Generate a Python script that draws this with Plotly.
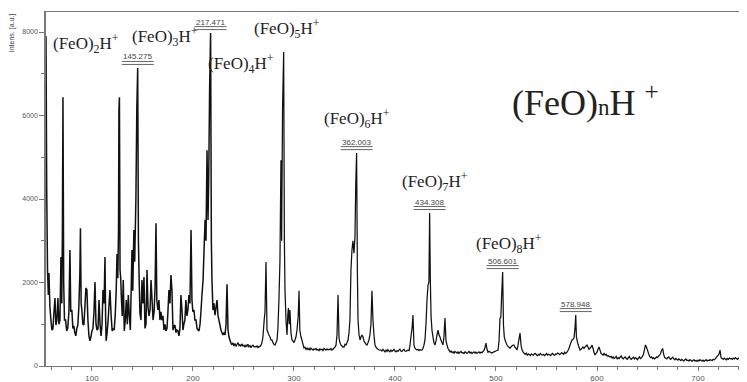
import plotly.graph_objects as go

# ---------------- data (m/z, intensity) ----------------
forest = [
    (54.5, 7900), (55.2, 4200), (56.0, 2300), (56.8, 1700), (57.4, 2230), (58.4, 1400), (59.4, 1100),
    (60.4, 860), (61.4, 900), (62.4, 1300), (63.4, 1630), (64.3, 980), (65.3, 1100), (66.3, 1630),
    (67.3, 1000), (68.3, 1100), (69.3, 2610), (70.1, 1500), (70.7, 3100), (71.3, 6440), (72.0, 2000),
    (72.8, 1100), (73.9, 1100), (75.0, 842), (76.0, 900), (77.2, 1300), (78.2, 2780), (79.0, 1300),
    (80.1, 1341), (81.1, 900), (82.1, 962), (83.0, 800), (84.0, 723), (85.0, 900), (86.0, 982),
    (87.0, 1400), (88.0, 2200), (88.6, 3300), (89.3, 1500), (90.0, 1341), (91.0, 1000), (92.0, 982),
    (93.0, 1400), (94.0, 1870), (95.0, 1820), (96.0, 1100), (97.0, 723), (98.0, 603), (99.0, 700),
    (100.0, 842), (101.0, 900), (102.0, 1300), (103.0, 2010), (104.0, 1000), (105.0, 862), (106.0, 900),
    (107.0, 1581), (108.0, 1000), (109.0, 723), (110.0, 1000), (110.9, 1820), (112.0, 1500), (112.9, 2610),
    (113.5, 1200), (114.0, 603), (115.0, 800), (116.0, 1100), (117.8, 1820), (119.0, 1200), (120.0, 842),
    (121.0, 900), (122.0, 862), (123.0, 1200), (124.0, 1800), (124.8, 2680), (125.6, 2100), (126.3, 3300),
    (126.7, 6150), (127.2, 6440), (127.8, 2300), (128.5, 2100), (129.0, 1700), (130.0, 1200), (131.0, 2060),
    (132.0, 842), (133.0, 1100), (134.0, 1581), (135.0, 1000), (136.0, 1700), (137.0, 1200), (138.0, 862),
    (139.0, 2000), (139.6, 2780), (140.4, 1800), (141.5, 3260), (142.3, 2500), (143.5, 4000), (144.4, 6150),
    (145.275, 7140), (146.0, 3000), (146.7, 2100), (147.5, 1270), (148.5, 1100), (149.5, 2060), (150.5, 1500),
    (151.5, 2130), (152.5, 900), (153.5, 1000), (154.5, 2300), (155.5, 1400), (156.5, 1200), (157.5, 1341),
    (158.5, 2060), (159.5, 1581), (160.5, 1100), (161.5, 1300), (162.5, 1900), (163.4, 3420), (164.2, 1581),
    (165.3, 1341), (166.3, 1581), (167.3, 1100), (168.3, 1300), (169.3, 1100), (170.3, 1200), (171.3, 862),
    (172.3, 1000), (173.3, 842), (174.3, 900), (175.3, 1341), (176.2, 1820), (177.2, 1500), (178.2, 2180),
    (179.2, 1820), (180.2, 862), (181.1, 950), (182.1, 982), (183.1, 800), (184.1, 862), (185.1, 842),
    (186.1, 723), (187.1, 900), (188.1, 1700), (189.1, 1341), (190.1, 862), (191.0, 1000), (192.0, 1100),
    (193.0, 1581), (194.0, 1200), (195.0, 1341), (196.0, 1700), (197.0, 1500), (198.1, 3260), (199.0, 1581),
    (199.9, 1300), (201.0, 1341), (201.9, 1100), (203.0, 1100), (204.0, 900), (205.0, 862), (206.0, 842),
    (207.0, 1000), (208.0, 1341), (208.9, 1700), (210.0, 2060), (211.0, 2800), (212.0, 3500), (212.9, 3000),
    (213.9, 5170), (214.9, 3500), (215.6, 4500), (216.5, 6680), (217.471, 7975), (218.2, 3000), (218.8, 2060),
    (219.8, 1341), (220.8, 1500), (221.8, 1220), (222.8, 1400), (223.8, 1581), (224.8, 1200), (225.7, 1100),
    (226.7, 982), (227.7, 862), (228.7, 800), (229.7, 742), (230.7, 800), (231.7, 742), (232.7, 982),
    (233.7, 1960), (234.7, 862), (235.6, 700), (236.6, 623), (237.6, 550), (238.6, 503),
]

mid_region = [
    (239.6, 560), (240.6, 480), (241.6, 540), (242.6, 470), (243.6, 520), (244.6, 560), (245.6, 490),
    (246.5, 510), (247.5, 470), (248.5, 530), (249.5, 480), (250.5, 500), (251.5, 450), (252.5, 500),
    (253.4, 470), (254.4, 520), (255.4, 460), (256.4, 490), (257.4, 440), (258.4, 480), (259.4, 500),
    (260.4, 460), (261.4, 470), (262.4, 455), (263.4, 480), (264.4, 440), (265.4, 470), (266.3, 460),
    (267.3, 500), (268.3, 560), (269.3, 700), (270.5, 1100), (271.3, 1300), (272.3, 2490), (273.3, 862),
    (274.3, 800), (275.2, 742), (276.2, 700), (277.2, 623), (278.2, 623), (279.2, 560), (280.2, 520),
    (281.2, 503), (282.2, 560), (283.2, 623), (284.1, 900), (285.1, 1581), (286.1, 2500), (287.1, 4930),
    (287.8, 3000), (288.7, 6200), (289.8, 7520), (290.5, 3000), (291.1, 1820), (292.1, 1100), (293.1, 742),
    (293.9, 1220), (294.5, 1390), (295.3, 1000), (296.0, 1341), (297.0, 800), (298.0, 623), (299.0, 600),
    (300.0, 560), (301.0, 623), (302.0, 700), (303.0, 862), (304.2, 1200), (305.0, 1800), (305.8, 862),
    (306.9, 700), (307.9, 623), (308.9, 520), (309.9, 431),
]

low_region_1 = [
    (310.9, 450), (311.9, 400), (312.9, 430), (313.9, 390), (314.9, 420), (315.8, 380), (316.8, 430),
    (317.8, 400), (318.8, 380), (319.8, 410), (320.8, 390), (321.8, 420), (322.8, 380), (323.8, 400),
    (324.8, 370), (325.7, 410), (326.7, 390), (327.7, 400), (328.7, 370), (329.7, 420), (330.7, 400),
    (331.7, 380), (332.7, 410), (333.7, 390), (334.7, 400), (335.6, 390), (336.6, 420), (337.6, 380),
    (338.6, 400), (339.6, 430), (340.6, 450), (341.6, 503), (342.6, 742), (343.6, 1700), (344.6, 670),
    (345.5, 560), (346.5, 503), (347.5, 480), (348.5, 455), (349.5, 455), (350.5, 520), (351.5, 503),
    (352.5, 560), (353.5, 623), (354.5, 800), (355.4, 1100), (356.4, 2300), (357.4, 2780), (358.4, 3000),
    (359.4, 2700), (360.4, 3100), (361.2, 4400), (362.003, 5100), (362.8, 2200), (363.4, 1100), (364.4, 742),
    (365.4, 623), (366.4, 700), (367.3, 742), (368.3, 700), (369.3, 600), (370.3, 560), (371.3, 520),
    (372.3, 503), (373.3, 560), (374.2, 623), (375.2, 742), (376.2, 1000), (377.2, 1800), (378.2, 1100),
    (379.2, 742), (380.2, 503), (381.2, 450), (382.2, 420), (383.2, 400), (384.2, 390), (385.1, 383),
]

low_region_2 = [
    (386.1, 383), (387.1, 360), (388.1, 400), (389.1, 370), (390.1, 340), (391.1, 380), (392.1, 350),
    (393.0, 390), (394.0, 360), (395.0, 340), (396.0, 380), (397.0, 350), (398.0, 370), (399.0, 400),
    (400.0, 360), (401.0, 340), (402.0, 370), (403.0, 350), (403.9, 380), (404.9, 400), (405.9, 360),
    (406.9, 350), (407.9, 380), (408.9, 400), (409.9, 360), (410.9, 350), (411.9, 370), (412.9, 380),
    (413.9, 370), (414.9, 503), (415.8, 700), (416.9, 900), (417.8, 1220), (418.8, 503), (419.8, 420),
    (420.8, 400), (421.8, 383), (422.8, 400), (423.8, 370), (424.7, 390), (425.7, 383), (426.7, 383),
    (427.7, 420), (428.7, 500), (429.7, 623), (430.7, 1000), (431.7, 1580), (432.7, 1940), (433.6, 2010),
    (434.308, 3665), (435.0, 2060), (435.7, 1200), (436.6, 862), (437.6, 700), (438.6, 560), (439.6, 503),
    (440.6, 600), (441.6, 742), (442.6, 860), (443.6, 742), (444.5, 700), (445.5, 623), (446.5, 560),
    (447.5, 503), (448.5, 700), (449.5, 1150), (450.5, 600), (451.5, 503), (452.5, 420), (453.5, 380),
    (454.5, 335),
]

low_region_3 = [
    (455.5, 360), (456.5, 320), (457.5, 340), (458.4, 300), (459.4, 350), (460.4, 330), (461.4, 310),
    (462.4, 340), (463.4, 300), (464.4, 330), (465.4, 350), (466.4, 310), (467.4, 320), (468.3, 300),
    (469.3, 340), (470.3, 330), (471.3, 300), (472.3, 320), (473.3, 350), (474.3, 310), (475.3, 330),
    (476.3, 300), (477.2, 320), (478.2, 340), (479.2, 310), (480.2, 330), (481.2, 300), (482.2, 320),
    (483.2, 340), (484.2, 310), (485.2, 330), (486.2, 320), (487.2, 350), (488.2, 380), (489.2, 450),
    (490.1, 550), (491.1, 400), (492.1, 330), (493.1, 350), (494.1, 335), (495.1, 320), (496.0, 310),
    (497.0, 330), (498.0, 340), (499.0, 350), (500.0, 360), (501.0, 370), (502.0, 383), (503.0, 600),
    (504.0, 1150), (504.8, 1170), (505.6, 1700), (506.601, 2250), (507.4, 980), (508.2, 700), (509.0, 623),
    (509.9, 560), (510.9, 503), (511.9, 470), (512.9, 450), (513.9, 431), (514.9, 460), (515.8, 480),
    (516.8, 503), (517.8, 503), (518.8, 450), (519.8, 420), (520.8, 383), (521.8, 500), (522.8, 650),
    (523.8, 790), (524.8, 500), (525.8, 383),
]

low_region_4 = [
    (527, 330), (528, 300), (529, 280), (530, 310), (531, 260), (532, 290), (533, 270), (534, 250),
    (535, 290), (536, 270), (537, 260), (538, 290), (539, 300), (540, 270), (541, 250), (542, 280),
    (543, 260), (544, 300), (545, 270), (546, 260), (547, 280), (548, 250), (549, 270), (550, 300),
    (551, 260), (552, 280), (553, 270), (554, 250), (555, 280), (556, 300), (557, 270), (558, 260),
    (559, 290), (560, 280), (561, 310), (562, 300), (563, 270), (564, 290), (565, 320), (566, 300),
    (567, 280), (568, 330), (569, 300), (570, 320), (571, 360), (572, 400), (573, 480), (574.2, 560),
    (575.2, 623), (576.2, 640), (577.2, 670), (578.2, 900), (578.948, 1220), (579.6, 700), (580.2, 623),
    (581.2, 520), (582.2, 450), (583.2, 383), (584.2, 400), (585.1, 430), (586.1, 455), (587.1, 420),
    (588.1, 450), (589.1, 480), (590.1, 503), (591.1, 450), (592.1, 400), (593.1, 430), (594.1, 455),
    (595.1, 500), (596.1, 420), (597.0, 330), (598.0, 263), (599.0, 300), (600.0, 330), (601.0, 400),
    (602.0, 455), (603.0, 380), (604.0, 300), (605.0, 280), (606.0, 263), (607.0, 300), (608.0, 260),
    (609.0, 280), (610.0, 240), (611.0, 250), (612.0, 230),
]

tail_region = [
    (613, 216), (614, 230), (615, 190), (616, 220), (617, 180), (618, 200), (619, 230), (620, 170),
    (621, 200), (622, 180), (623, 210), (624, 240), (625, 190), (626, 170), (627, 200), (628, 220),
    (629, 180), (630, 160), (631, 200), (632, 230), (633, 180), (634, 160), (635, 190), (636, 210),
    (637, 170), (638, 200), (639, 180), (640, 150), (641, 190), (642, 220), (643, 180), (644, 200),
    (645, 230), (646, 280), (647, 400), (648, 503), (649, 450), (650, 380), (651, 300), (652, 240),
    (653, 200), (654, 220), (655, 180), (656, 200), (657, 170), (658, 190), (659, 220), (660, 200),
    (661, 240), (662, 260), (663, 300), (664, 380), (665, 420), (666, 280), (667, 200), (668, 190),
    (669, 170), (670, 200), (671, 220), (672, 180), (673, 160), (674, 190), (675, 210), (676, 170),
    (677, 150), (678, 180), (679, 160), (680, 140), (681, 170), (682, 150), (683, 130), (684, 160),
    (685, 140), (686, 120), (687, 150), (688, 170), (689, 130), (690, 140), (691, 120), (692, 150),
    (693, 130), (694, 110), (695, 140), (696, 150), (697, 120), (698, 130), (699, 110), (700, 140),
    (701, 120), (702, 150), (703, 130), (704, 120), (705, 140), (706, 110), (707, 130), (708, 150),
    (709, 120), (710, 140), (711, 130), (712, 150), (713, 140), (714, 130), (715, 160), (716, 150),
    (717, 170), (718, 200), (719, 230), (720, 260), (721, 300), (721.8, 380), (722.5, 250), (723, 190),
    (724, 180), (725, 160), (726, 190), (727, 170), (728, 150), (729, 180), (730, 160), (731, 190),
    (732, 170), (733, 180), (734, 160), (735, 190), (736, 170), (737, 200), (738, 180), (739, 160),
    (740, 190), (741, 170), (742, 180), (743, 200), (744, 170), (745, 190), (746, 180), (747, 160),
    (748, 190),
]

# labelled peaks (m/z values printed above them)
labelled_peaks = [145.275, 217.471, 362.003, 434.308, 506.601, 578.948]

# cluster-ion labels and where they sit (m/z, intensity)
ion_labels = [
    "(FeO)<sub>2</sub>H<sup>+</sup>", "(FeO)<sub>3</sub>H<sup>+</sup>", "(FeO)<sub>4</sub>H<sup>+</sup>",
    "(FeO)<sub>5</sub>H<sup>+</sup>", "(FeO)<sub>6</sub>H<sup>+</sup>", "(FeO)<sub>7</sub>H<sup>+</sup>",
    "(FeO)<sub>8</sub>H<sup>+</sup>",
]
ion_label_mz = [94, 172.3, 247.5, 293, 362.4, 439.6, 513]
ion_label_int = [7736, 7900, 7257, 8095, 5940, 4430, 2946]

x_range = [54.5, 748.5]
y_range = [0, 8480]
x_ticks = [100, 200, 300, 400, 500, 600, 700]
y_ticks = [0, 2000, 4000, 6000, 8000]

# ---------------- build figure ----------------
rest = mid_region + low_region_1 + low_region_2 + low_region_3 + low_region_4 + tail_region
spectrum = forest + rest
lookup = dict(spectrum)

fig = go.Figure()
# dense low-mass region drawn a touch heavier, as in the original trace
fig.add_trace(go.Scatter(
    x=[p[0] for p in forest], y=[p[1] for p in forest], mode="lines",
    line=dict(color="#111111", width=1.5, simplify=False),
    hoverinfo="skip", showlegend=False,
))
joined = [forest[-1]] + rest
fig.add_trace(go.Scatter(
    x=[p[0] for p in joined], y=[p[1] for p in joined], mode="lines",
    line=dict(color="#111111", width=1.25, simplify=False),
    hoverinfo="skip", showlegend=False,
))

axis_col = "#777777"
sans = "Liberation Sans, Arial, sans-serif"
serif = "Liberation Serif, Times New Roman, serif"
tick_font = dict(family=sans, size=8, color="#555555")

annotations = []
shapes = []

for pk in labelled_peaks:
    top = lookup[pk]
    annotations.append(dict(
        x=pk, y=top, xref="x", yref="y", text=f"{pk:.3f}", showarrow=False,
        yshift=11, xanchor="center", yanchor="middle",
        font=dict(family=sans, size=8, color="#444444"),
    ))
    for off in (3.5, 6.5):
        shapes.append(dict(
            type="line", xref="x", yref="y",
            xsizemode="pixel", xanchor=pk, x0=-16, x1=16,
            ysizemode="pixel", yanchor=top, y0=off, y1=off,
            line=dict(color="#666666", width=1),
        ))

for txt, xm, yi in zip(ion_labels, ion_label_mz, ion_label_int):
    annotations.append(dict(
        x=xm, y=yi, xref="x", yref="y", text=txt, showarrow=False,
        xanchor="center", yanchor="middle",
        font=dict(family=serif, size=17, color="#222222"),
    ))

annotations.append(dict(
    x=589, y=6370, xref="x", yref="y",
    text="(FeO)<span style='font-size:23px'>n</span>H <sup>+</sup>",
    showarrow=False, xanchor="center", yanchor="middle",
    font=dict(family=serif, size=36, color="#222222"),
))

annotations.append(dict(
    x=-0.0485, y=0.94, xref="paper", yref="paper", text="Intens. [a.u.]",
    showarrow=False, textangle=-90, xanchor="center", yanchor="middle",
    font=dict(family=sans, size=7, color="#444444"),
))

# the page body adds an 8px offset; size the figure so the plot lands where the reference has it
fig.update_layout(
    width=739, height=374,
    margin=dict(l=38, r=0, t=4, b=16),
    paper_bgcolor="white", plot_bgcolor="white",
    annotations=annotations, shapes=shapes,
    xaxis=dict(
        range=x_range, tickvals=x_ticks, ticks="outside", ticklen=4, tickcolor=axis_col,
        showline=True, linecolor=axis_col, linewidth=1, mirror=True,
        showgrid=False, zeroline=False, tickfont=tick_font,
        minor=dict(dtick=20, tick0=0, ticks="outside", ticklen=3, tickcolor=axis_col),
    ),
    yaxis=dict(
        range=y_range, tickvals=y_ticks, ticks="outside", ticklen=5, tickcolor=axis_col,
        showline=True, linecolor=axis_col, linewidth=1.5,
        showgrid=False, zeroline=False, tickfont=dict(tick_font, size=7),
        minor=dict(dtick=1000, tick0=0, ticks="outside", ticklen=3, tickcolor=axis_col),
    ),
)

fig.write_html("out.html")
